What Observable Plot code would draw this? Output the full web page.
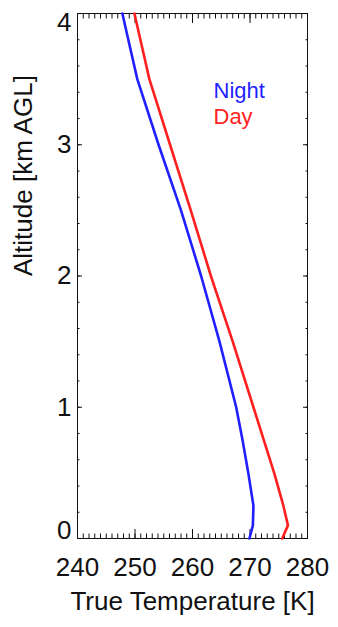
<!DOCTYPE html>
<html>
<head>
<meta charset="utf-8">
<script src="https://cdn.jsdelivr.net/npm/d3@7"></script>
<script src="https://cdn.jsdelivr.net/npm/@observablehq/plot@0.6"></script>
<style>
  body { margin: 0; background: #fff; }
  svg { display: block; }
</style>
</head>
<body>
<div id="chart"></div>
<script>
// Vertical temperature profiles (altitude above ground level vs. true temperature)
const altitudeKm = [0, 0.1, 0.25, 0.5, 0.75, 1.0, 1.5, 2.0, 2.5, 3.0, 3.5, 4.0];
const nightTempK = [269.9, 270.5, 270.6, 269.7, 268.7, 267.6, 264.7, 261.5, 258.0, 254.1, 250.4, 247.8];
const dayTempK   = [275.6, 276.6, 275.8, 274.2, 272.4, 270.6, 267.0, 263.2, 259.7, 256.1, 252.5, 249.9];

const seriesNames  = ["Night", "Day"];
const seriesColors = ["#1f1fff", "#ff1f1f"];

const xTickLabels = [240, 250, 260, 270, 280];
const yTickLabels = [0, 1, 2, 3, 4];
const xMinorTicks = d3.range(240, 281, 1);
const yMinorTicks = d3.range(0, 21).map(i => i * 0.2);

const profiles = [nightTempK, dayTempK].flatMap((temps, s) =>
  altitudeKm.map((alt, j) => ({series: seriesNames[s], alt, temp: temps[j]}))
);

const font = "'Liberation Sans', Arial, Helvetica, sans-serif";
const ink = "#111";
const intFormat = d3.format("d");

const chart = Plot.plot({
  width: 338,
  height: 627,
  marginLeft: 77,
  marginRight: 31,
  marginTop: 13,
  marginBottom: 89,
  style: {fontFamily: font, fontSize: "26px", color: ink, background: "#fff", overflow: "visible"},
  x: {domain: [240, 280]},
  y: {domain: [0, 4]},
  color: {domain: seriesNames, range: seriesColors},
  marks: [
    // inward minor and major ticks on all four sides
    Plot.axisX(xMinorTicks, {anchor: "bottom", tickSize: -4.5, text: null, label: null, stroke: ink}),
    Plot.axisX(xMinorTicks, {anchor: "top", tickSize: -4.5, text: null, label: null, stroke: ink}),
    Plot.axisX(xTickLabels, {anchor: "bottom", tickSize: -9, text: null, label: null, stroke: ink}),
    Plot.axisX(xTickLabels, {anchor: "top", tickSize: -9, text: null, label: null, stroke: ink}),
    Plot.axisY(yMinorTicks, {anchor: "left", tickSize: -2.5, text: null, label: null, stroke: ink}),
    Plot.axisY(yMinorTicks, {anchor: "right", tickSize: -2.5, text: null, label: null, stroke: ink}),
    Plot.axisY(yTickLabels, {anchor: "left", tickSize: -5, text: null, label: null, stroke: ink}),
    Plot.axisY(yTickLabels, {anchor: "right", tickSize: -5, text: null, label: null, stroke: ink}),

    // tick labels
    Plot.axisX(xTickLabels, {anchor: "bottom", tickSize: 0, tickPadding: 19, label: null, fontSize: 26, fill: ink, tickFormat: intFormat}),
    Plot.axisY(yTickLabels.filter(v => v > 0 && v < 4), {anchor: "left", tickSize: 0, tickPadding: 6, label: null, fontSize: 26, fill: ink, tickFormat: intFormat}),
    Plot.axisY([0], {anchor: "left", tickSize: 0, tickPadding: 6, label: null, fontSize: 26, fill: ink, dy: -8, tickFormat: intFormat}),
    Plot.axisY([4], {anchor: "left", tickSize: 0, tickPadding: 6, label: null, fontSize: 26, fill: ink, dy: 9, tickFormat: intFormat}),

    // axis titles
    Plot.text(["True Temperature [K]"], {frameAnchor: "bottom", dy: 71, lineAnchor: "bottom", fontSize: 26, fill: ink}),
    Plot.text(["Altitude [km AGL]"], {frameAnchor: "left", dx: -54, rotate: -90, fontSize: 26, fill: ink}),

    Plot.frame({stroke: ink, strokeWidth: 1}),

    // profiles
    Plot.line(profiles, {x: "temp", y: "alt", z: "series", stroke: "series", strokeWidth: 2.6}),

    // legend
    Plot.text([seriesNames[0]], {frameAnchor: "top-left", dx: 136, dy: 84, textAnchor: "start", lineAnchor: "bottom", fontSize: 22, fill: seriesColors[0]}),
    Plot.text([seriesNames[1]], {frameAnchor: "top-left", dx: 136, dy: 110, textAnchor: "start", lineAnchor: "bottom", fontSize: 22, fill: seriesColors[1]})
  ]
});

document.getElementById("chart").appendChild(chart);
</script>
</body>
</html>
